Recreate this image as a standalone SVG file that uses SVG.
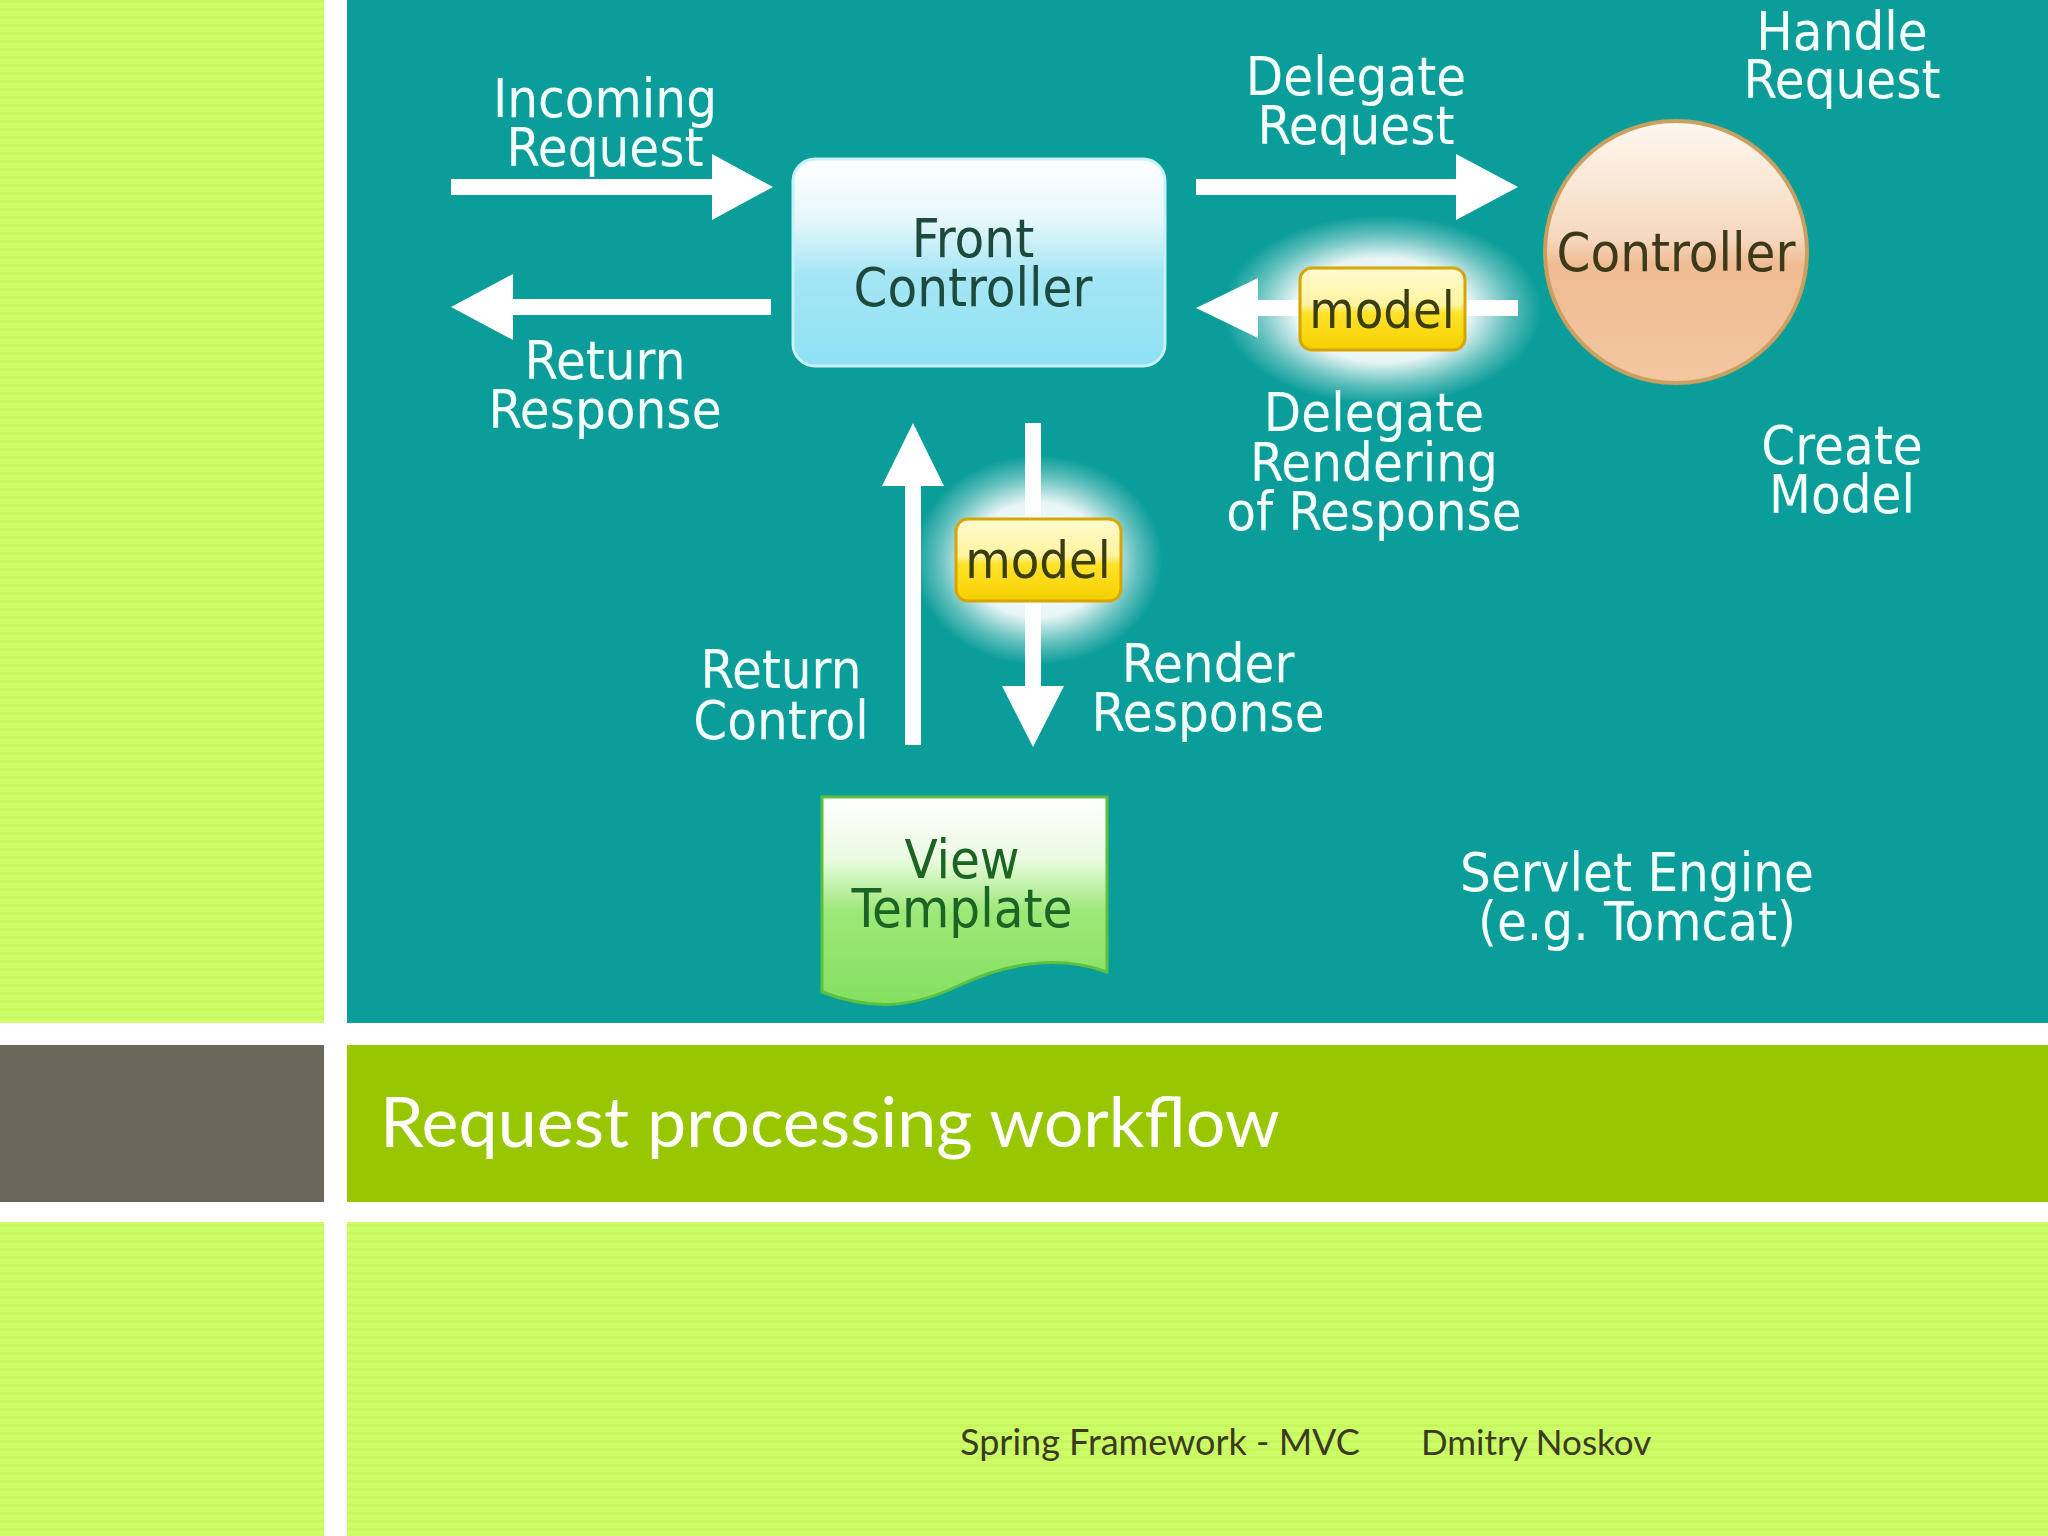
<svg xmlns="http://www.w3.org/2000/svg" width="2048" height="1536" viewBox="0 0 2048 1536">
  <defs>
    <pattern id="stripes" width="8" height="8" patternUnits="userSpaceOnUse">
      <rect width="8" height="8" fill="#cdfd68"/>
      <rect y="0" width="8" height="3" fill="#c6f85e"/>
    </pattern>
    <linearGradient id="fcGrad" x1="0" y1="0" x2="0" y2="1">
      <stop offset="0" stop-color="#ffffff"/>
      <stop offset="0.3" stop-color="#e4f7fb"/>
      <stop offset="0.55" stop-color="#a6e6f5"/>
      <stop offset="1" stop-color="#8ee1f3"/>
    </linearGradient>
    <linearGradient id="ctrlGrad" x1="0" y1="0" x2="0" y2="1">
      <stop offset="0" stop-color="#fdf8f0"/>
      <stop offset="0.45" stop-color="#f6d8bd"/>
      <stop offset="0.55" stop-color="#efbb92"/>
      <stop offset="1" stop-color="#f3c7a0"/>
    </linearGradient>
    <linearGradient id="modelGrad" x1="0" y1="0" x2="0" y2="1">
      <stop offset="0" stop-color="#fffbd0"/>
      <stop offset="0.45" stop-color="#fff3a0"/>
      <stop offset="0.55" stop-color="#ffe22a"/>
      <stop offset="1" stop-color="#f5d000"/>
    </linearGradient>
    <linearGradient id="viewGrad" x1="0" y1="0" x2="0" y2="1">
      <stop offset="0" stop-color="#ffffff"/>
      <stop offset="0.3" stop-color="#eafae0"/>
      <stop offset="0.55" stop-color="#9de878"/>
      <stop offset="1" stop-color="#84e060"/>
    </linearGradient>
    <radialGradient id="glow" cx="0.5" cy="0.5" r="0.5">
      <stop offset="0" stop-color="#ffffff" stop-opacity="1"/>
      <stop offset="0.55" stop-color="#ffffff" stop-opacity="0.9"/>
      <stop offset="0.8" stop-color="#ffffff" stop-opacity="0.35"/>
      <stop offset="1" stop-color="#ffffff" stop-opacity="0"/>
    </radialGradient>
    <style>
      .lbl { font-family: 'DejaVu Sans Condensed', 'DejaVu Sans', sans-serif; font-stretch: condensed; font-size: 54px; fill: #f4fffb; text-anchor: middle; }
      .node { font-family: 'DejaVu Sans Condensed', 'DejaVu Sans', sans-serif; font-stretch: condensed; font-size: 54px; text-anchor: middle; }
      .arrow { fill: #ffffff; }
      .model { fill: url(#modelGrad); stroke: #d8a400; stroke-width: 3; }
      .modelText { font-family: 'DejaVu Sans Condensed', 'DejaVu Sans', sans-serif; font-stretch: condensed; font-size: 52px; fill: #3a3d10; text-anchor: middle; }
    </style>
  </defs>

  <!-- page background -->
  <rect x="0" y="0" width="2048" height="1536" fill="#ffffff"/>
  <rect x="0" y="0" width="324" height="1023" fill="url(#stripes)"/>
  <rect x="347" y="0" width="1701" height="1023" fill="#0a9d99"/>
  <rect x="0" y="1045" width="324" height="157" fill="#6b6859"/>
  <rect x="347" y="1045" width="1701" height="157" fill="#98c600"/>
  <rect x="0" y="1222" width="324" height="314" fill="url(#stripes)"/>
  <rect x="347" y="1222" width="1701" height="314" fill="url(#stripes)"/>

  <!-- glows -->
  <ellipse cx="1382" cy="310" rx="160" ry="95" fill="url(#glow)"/>
  <ellipse cx="1038" cy="560" rx="125" ry="105" fill="url(#glow)"/>

  <!-- connectors -->
  <g id="connectors">
    <polygon class="arrow" points="451,179 712,179 712,154 773,187 712,220 712,195 451,195"/>
    <polygon class="arrow" points="771,299 513,299 513,274 451,307 513,340 513,315 771,315"/>
    <polygon class="arrow" points="1196,179 1456,179 1456,154 1518,187 1456,220 1456,195 1196,195"/>
    <polygon class="arrow" points="1518,300 1258,300 1258,278 1196,308 1258,338 1258,316 1518,316"/>
    <polygon class="arrow" points="905,745 905,486 882,486 913,423 944,486 921,486 921,745"/>
    <polygon class="arrow" points="1025,423 1041,423 1041,686 1064,686 1033,747 1002,686 1025,686"/>
  </g>

  <!-- nodes -->
  <g id="front-controller">
    <rect x="793" y="159" width="372" height="207" rx="22" fill="url(#fcGrad)" stroke="#c6f0fa" stroke-width="3"/>
    <text class="node" x="973" y="257" fill="#1d4a3c">Front</text>
    <text class="node" x="973" y="306" fill="#1d4a3c">Controller</text>
  </g>

  <g id="controller">
    <circle cx="1676" cy="252" r="131" fill="url(#ctrlGrad)" stroke="#c9a060" stroke-width="4"/>
    <text class="node" x="1676" y="271" fill="#3d3a1a">Controller</text>
  </g>

  <g id="model-top">
    <rect class="model" x="1300" y="268" width="165" height="82" rx="12"/>
    <text class="modelText" x="1382" y="328">model</text>
  </g>

  <g id="model-bottom">
    <rect class="model" x="956" y="519" width="165" height="82" rx="12"/>
    <text class="modelText" x="1038" y="578">model</text>
  </g>

  <g id="view-template">
    <path d="M822,797 L1107,797 L1107,972 C1060,955 1010,962 960,985 C920,1004 880,1014 822,992 Z" fill="url(#viewGrad)" stroke="#5cc040" stroke-width="3"/>
    <text class="node" x="962" y="878" fill="#1c6424">View</text>
    <text class="node" x="962" y="927" fill="#1c6424">Template</text>
  </g>

  <!-- labels -->
  <g id="labels">
    <text class="lbl" x="605" y="117">Incoming</text>
    <text class="lbl" x="605" y="166">Request</text>
    <text class="lbl" x="605" y="379">Return</text>
    <text class="lbl" x="605" y="428">Response</text>
    <text class="lbl" x="1356" y="95">Delegate</text>
    <text class="lbl" x="1356" y="144">Request</text>
    <text class="lbl" x="1842" y="50">Handle</text>
    <text class="lbl" x="1842" y="98">Request</text>
    <text class="lbl" x="1374" y="431">Delegate</text>
    <text class="lbl" x="1374" y="481">Rendering</text>
    <text class="lbl" x="1374" y="530">of Response</text>
    <text class="lbl" x="1842" y="464">Create</text>
    <text class="lbl" x="1842" y="513">Model</text>
    <text class="lbl" x="781" y="688">Return</text>
    <text class="lbl" x="781" y="739">Control</text>
    <text class="lbl" x="1208" y="682">Render</text>
    <text class="lbl" x="1208" y="731">Response</text>
    <text class="lbl" x="1637" y="891">Servlet Engine</text>
    <text class="lbl" x="1637" y="940">(e.g. Tomcat)</text>
  </g>

  <!-- title and footer -->
  <text x="380" y="1147" font-family="Lato, 'Open Sans', sans-serif" font-size="70" fill="#ffffff">Request processing workflow</text>
  <text x="960" y="1455" font-family="Lato, 'Open Sans', sans-serif" font-size="36" fill="#3b3b22">Spring Framework - MVC</text>
  <text x="1421" y="1455" font-family="Lato, 'Open Sans', sans-serif" font-size="35" fill="#3b3b22">Dmitry Noskov</text>
</svg>
